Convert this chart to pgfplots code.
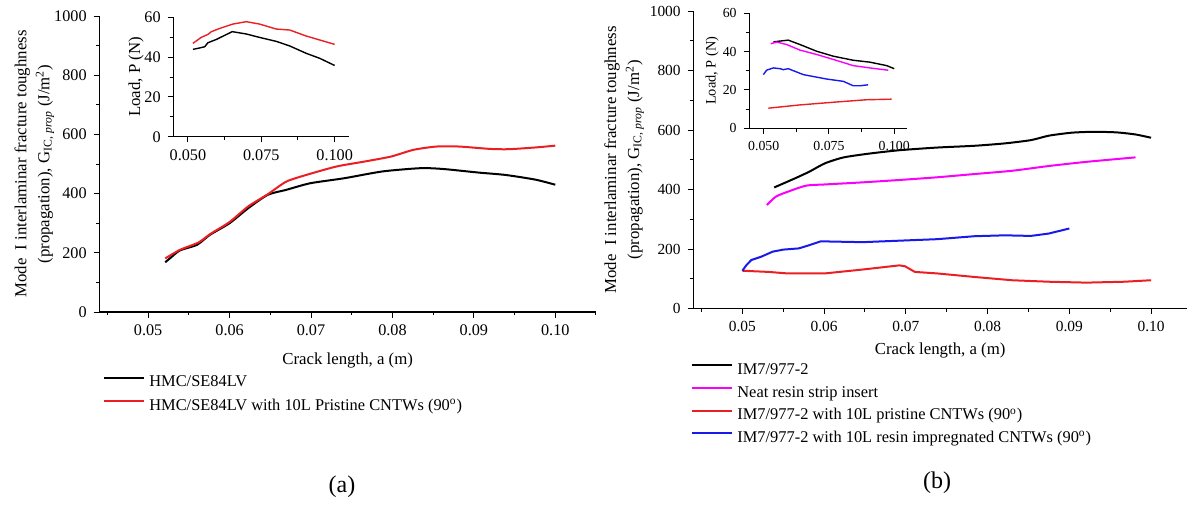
\documentclass[border=0pt]{standalone}
\usepackage{fontspec}
\setmainfont{Liberation Serif}
\usepackage{pgfplots}
\pgfplotsset{compat=1.18}
\definecolor{cred}{RGB}{235,30,35}
\definecolor{cmag}{RGB}{250,0,250}
\definecolor{cblue}{RGB}{25,25,235}

\pgfplotsset{
  base/.style={
    scale only axis,
    axis lines=left,
    axis line style={line width=0.6pt,-},
    tick align=outside,
    major tick length=2.8pt,
    minor tick length=1.6pt,
    every tick/.style={line width=0.5pt,black},
    scaled x ticks=false,
    /pgf/number format/assume math mode=true,
    /pgf/number format/1000 sep={},
    tick label style={font=\fontsize{8.1}{10}\selectfont},
    label style={font=\fontsize{8.4}{11.5}\selectfont},
  },
  mainpanel/.style={
    base,
    ymin=0, ymax=1000,
    ytick={0,200,400,600,800,1000},
    minor ytick={100,300,500,700,900},
    xtick={0.05,0.06,0.07,0.08,0.09,0.10},
    minor xtick={0.045,0.055,0.065,0.075,0.085,0.095,0.105},
    xticklabel style={/pgf/number format/.cd,fixed,fixed zerofill,precision=2},
    yticklabel style={/pgf/number format/.cd,fixed,precision=0},
    xlabel={Crack length, a (m)},
    ylabel={Mode\ \ I interlaminar fracture toughness\\(propagation), G\textsubscript{IC, \textit{prop}} (J/m\textsuperscript{2})},
    ylabel style={align=center},
    legend cell align=left,
    legend style={draw=none, fill=none, inner sep=0pt, font=\fontsize{8.2}{10}\selectfont,
      nodes={inner sep=0pt, text height=6pt, text depth=2pt}, column sep=2pt},
    legend image code/.code={\draw[#1] (0pt,2.5pt)--(20pt,2.5pt);},
    every axis plot/.append style={line width=1pt},
  },
  inset/.style={
    base,
    ymin=0, ymax=60,
    ytick={0,20,40,60},
    minor ytick={10,30,50},
    xtick={0.05,0.075,0.1},
    minor xtick={0.0625,0.0875},
    xticklabel style={/pgf/number format/.cd,fixed,fixed zerofill,precision=3},
    ylabel={Load, P (N)},
    every axis plot/.append style={line width=0.7pt},
  },
}

\begin{document}
\begin{tikzpicture}
\path[use as bounding box] (0pt,0pt) rectangle (593.5pt,-252pt);

% ---------------- (a) main ----------------
\begin{axis}[mainpanel,
  at={(49.65pt,-156pt)}, anchor=south west,
  width=248.35pt, height=148pt,
  xmin=0.044, xmax=0.105,
  xlabel style={at={(axis description cs:0.5,-0.164)}, anchor=center},
  ylabel style={at={(axis description cs:-0.131,0.5)}, anchor=center},
  legend style={at={(0.0074,-0.211)}, anchor=north west, row sep=3.65pt},
]
\addplot[black, smooth, tension=0.4] coordinates {
(0.0521,168)(0.0527,182)(0.0539,208)(0.0560,227)(0.0576,261)(0.0600,300)
(0.0623,351)(0.0647,396)(0.0670,413)(0.0699,435)(0.0741,452)(0.0788,475)
(0.0835,486)(0.0863,483)(0.0906,471)(0.0939,463)(0.0976,447)(0.1000,430)};
\addlegendentry{HMC/SE84LV}
\addplot[cred, smooth, tension=0.4] coordinates {
(0.0521,181)(0.0539,210)(0.0562,235)(0.0576,263)(0.0600,304)(0.0623,357)
(0.0647,398)(0.0670,441)(0.0699,467)(0.0732,492)(0.0765,508)(0.0798,525)
(0.0826,548)(0.0854,559)(0.0882,559)(0.0920,551)(0.0943,550)(0.0976,556)(0.1000,562)};
\addlegendentry{HMC/SE84LV with 10L Pristine CNTWs (90\textsuperscript{o})}
\end{axis}

% ---------------- (a) inset ----------------
\begin{axis}[inset,
  at={(86.65pt,-68.35pt)}, anchor=south west,
  width=88pt, height=59.7pt,
  xmin=0.045, xmax=0.105,
  ylabel style={at={(axis description cs:-0.212,0.5)}, anchor=center},
]
\addplot[black] coordinates {
(0.0517,43.9)(0.0534,44.4)(0.0557,45.2)(0.0568,47.2)(0.0597,48.9)(0.0651,52.8)
(0.0699,51.6)(0.0744,49.9)(0.0801,47.9)(0.0847,45.6)(0.0903,41.9)(0.0949,39.4)(0.1000,35.8)};
\addplot[cred] coordinates {
(0.0517,46.9)(0.0545,49.9)(0.0568,51.4)(0.0580,52.8)(0.0608,54.4)(0.0653,56.6)
(0.0699,57.8)(0.0744,56.6)(0.0801,54.1)(0.0847,53.6)(0.0903,50.6)(0.0949,48.6)(0.1000,46.4)};
\end{axis}

% ---------------- (b) main ----------------
\begin{axis}[mainpanel,
  at={(346.65pt,-154.25pt)}, anchor=south west,
  width=246.85pt, height=148.75pt,
  xmin=0.044, xmax=0.1044,
  tick label style={font=\fontsize{7.7}{9}\selectfont},
  xlabel style={at={(axis description cs:0.5,-0.141)}, anchor=center},
  ylabel style={at={(axis description cs:-0.140,0.5)}, anchor=center},
  legend style={at={(-0.0047,-0.18)}, anchor=north west, row sep=3.3pt},
]
\addplot[black, smooth, tension=0.4] coordinates {
(0.0539,407)(0.0564,437)(0.0582,460)(0.0601,488)(0.0624,508)(0.0656,521)
(0.0692,532)(0.0738,541)(0.0784,547)(0.0821,555)(0.0853,566)(0.0875,581)
(0.0903,591)(0.0930,594)(0.0958,592)(0.0981,585)(0.1000,574)};
\addlegendentry{IM7/977-2}
\addplot[cmag, smooth, tension=0.4] coordinates {
(0.0530,348)(0.0541,376)(0.0555,392)(0.0578,413)(0.0601,417)(0.0647,424)
(0.0692,432)(0.0738,441)(0.0784,452)(0.0830,463)(0.0875,479)(0.0921,493)(0.0981,508)};
\addlegendentry{Neat resin strip insert}
\addplot[cred] coordinates {
(0.0500,127)(0.0532,123)(0.0555,118)(0.0601,118)(0.0647,131)(0.0692,145)
(0.0699,142)(0.0711,123)(0.0738,118)(0.0784,106)(0.0830,95)(0.0875,90)
(0.0921,87)(0.0967,90)(0.1000,95)};
\addlegendentry{IM7/977-2 with 10L pristine CNTWs (90\textsuperscript{o})}
\addplot[cblue] coordinates {
(0.0500,127)(0.0505,146)(0.0511,163)(0.0523,174)(0.0537,191)(0.0550,198)
(0.0569,202)(0.0582,213)(0.0596,226)(0.0610,225)(0.0647,223)(0.0692,228)
(0.0738,233)(0.0784,243)(0.0821,246)(0.0853,244)(0.0875,252)(0.0900,269)};
\addlegendentry{IM7/977-2 with 10L resin impregnated CNTWs (90\textsuperscript{o})}
\end{axis}

% ---------------- (b) inset ----------------
\begin{axis}[inset,
  at={(374.65pt,-64.15pt)}, anchor=south west,
  width=79pt, height=57.5pt,
  xmin=0.0445, xmax=0.105,
  tick label style={font=\fontsize{6.9}{8}\selectfont},
  ylabel style={font=\fontsize{7.2}{9}\selectfont, at={(axis description cs:-0.235,0.5)}, anchor=center},
]
\addplot[black] coordinates {
(0.0537,45.1)(0.0594,46.0)(0.0639,43.7)(0.0703,40.2)(0.0767,37.6)(0.0843,35.5)
(0.0907,34.5)(0.0971,32.7)(0.1000,31.1)};
\addplot[cmag] coordinates {
(0.0527,44.1)(0.0550,45.0)(0.0588,43.7)(0.0639,40.8)(0.0703,38.5)(0.0767,35.9)
(0.0843,32.7)(0.0907,31.5)(0.0977,30.3)};
\addplot[cblue] coordinates {
(0.0499,28.0)(0.0511,30.3)(0.0537,31.5)(0.0563,31.1)(0.0575,30.6)(0.0594,31.1)
(0.0652,28.0)(0.0741,25.7)(0.0805,24.5)(0.0843,22.2)(0.0869,22.2)(0.0900,22.7)};
\addplot[cred] coordinates {
(0.0518,10.5)(0.0639,12.2)(0.0767,13.6)(0.0894,14.9)(0.0990,15.2)};
\end{axis}

\node[font=\fontsize{12}{14}\selectfont] at (171pt,-243.5pt) {(a)};
\node[font=\fontsize{12}{14}\selectfont] at (468.5pt,-241.5pt) {(b)};
\end{tikzpicture}
\end{document}
